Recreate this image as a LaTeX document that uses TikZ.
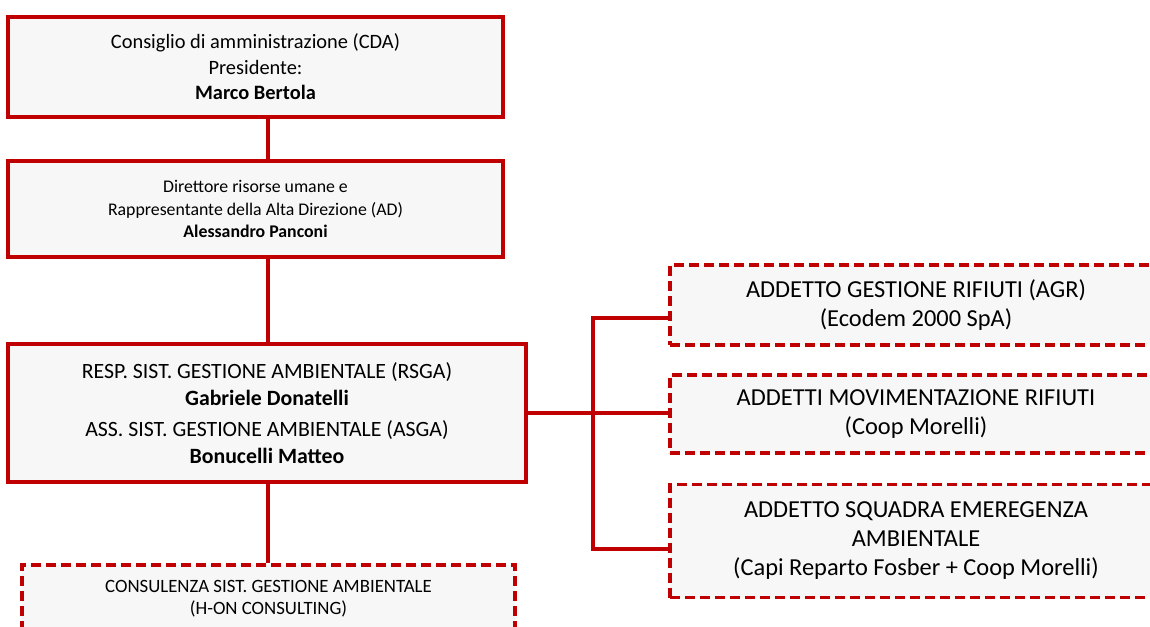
\documentclass[tikz,border=0pt]{standalone}
\usepackage{fontspec}
\setmainfont{Carlito}
\usetikzlibrary{positioning}
\definecolor{orgred}{HTML}{C00000}
\definecolor{boxfill}{HTML}{F7F7F7}

\begin{document}
\begin{tikzpicture}[x=1pt, y=-1pt,
    solidbox/.style={draw=orgred, line width=4pt, fill=boxfill, align=center, inner sep=0pt},
    dashbox/.style={draw=orgred, line width=3.8pt, dash pattern=on 10pt off 5pt, fill=boxfill, align=center, inner sep=0pt},
    sidebox/.style={dashbox, font=\fontsize{24.4}{29}\selectfont, minimum width=492pt},
    link/.style={draw=orgred, line width=3.5pt}]
        % Canvas
        \useasboundingbox (0,0) rectangle (1150,626);
        \clip (0,0) rectangle (1150,626);

        % Main chain
        \node[solidbox, font=\fontsize{20.4}{25.5}\selectfont, minimum width=495pt, minimum height=100pt] (cda) at (255.5,67)
            {Consiglio di amministrazione (CDA)\\ Presidente:\\ \textbf{Marco Bertola}};
        \node[solidbox, font=\fontsize{17.8}{22.5}\selectfont, minimum width=495pt, minimum height=96pt] (ad) at (255.5,209)
            {Direttore risorse umane e\\ Rappresentante della Alta Direzione (AD)\\ \textbf{Alessandro Panconi}};
        \node[solidbox, font=\fontsize{21.8}{27}\selectfont, minimum width=518pt, minimum height=138pt] (rsga) at (267,413)
            {RESP. SIST. GESTIONE AMBIENTALE (RSGA)\\ \textbf{Gabriele Donatelli}\\[4pt]
             ASS. SIST. GESTIONE AMBIENTALE (ASGA)\\ \textbf{Bonucelli Matteo}};
        \node[dashbox, font=\fontsize{18.8}{22}\selectfont, minimum width=493pt, minimum height=68pt] (cons) at (268.5,599)
            {CONSULENZA SIST. GESTIONE AMBIENTALE\\ (H-ON CONSULTING)};

        % Side boxes
        \node[sidebox, minimum height=80pt] (agr) at (916,305)
            {ADDETTO GESTIONE RIFIUTI (AGR)\\ (Ecodem 2000 SpA)};
        \node[sidebox, minimum height=78pt] (mov) at (916,414)
            {ADDETTI MOVIMENTAZIONE RIFIUTI\\ (Coop Morelli)};
        \node[sidebox, minimum height=113pt] (emer) at (916,541)
            {ADDETTO SQUADRA EMEREGENZA\\ AMBIENTALE\\ (Capi Reparto Fosber + Coop Morelli)};

        % Connectors
        \coordinate (trunk) at (268,0);
        \coordinate (jtop) at (593,318);
        \coordinate (jbot) at (593,549);
        \draw[link] (cda.south -| trunk) -- (ad.north -| trunk);
        \draw[link] (ad.south -| trunk) -- (rsga.north -| trunk);
        \draw[link] (rsga.south -| trunk) -- (cons.north -| trunk);
        \draw[link] (rsga.east) -- (rsga.east -| mov.west);
        \draw[link] (agr.west |- jtop) -- (jtop) -- (jbot) -- (emer.west |- jbot);
\end{tikzpicture}
\end{document}
